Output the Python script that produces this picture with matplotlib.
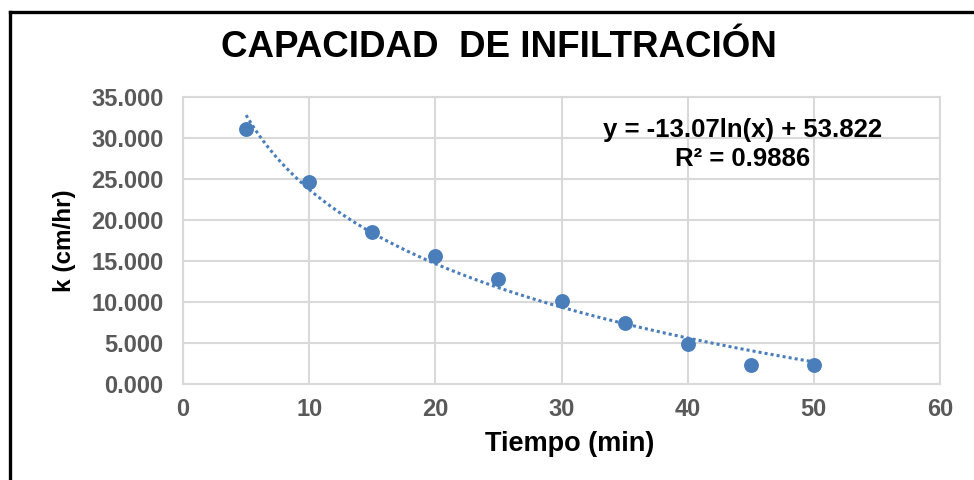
import numpy as np
import matplotlib
matplotlib.use('Agg')
import matplotlib.pyplot as plt
from matplotlib.lines import Line2D

plt.rcParams['font.family'] = ['Liberation Sans', 'DejaVu Sans']

# Infiltration test readings
tiempo_min = [5, 10, 15, 20, 25, 30, 35, 40, 45, 50]
k_cm_hr = [31.1, 24.6, 18.5, 15.6, 12.8, 10.1, 7.4, 4.9, 2.3, 2.3]

# Logarithmic trendline as reported on the chart
trend_a = -13.07
trend_b = 53.822
trend_r2 = 0.9886

x_ticks = [0, 10, 20, 30, 40, 50, 60]
y_ticks = [0, 5, 10, 15, 20, 25, 30, 35]

BLUE = '#4a7ebb'
GRID = '#d9d9d9'
TICK = '#595959'


def plot_infiltracion(save_path='out.png'):
    fig = plt.figure(figsize=(9.74, 4.8), dpi=100)
    ax = fig.add_axes([0.1879, 0.2, 0.7772, 0.5979])

    # trendline over the measured range
    xt = np.linspace(min(tiempo_min), max(tiempo_min), 200)
    ax.plot(xt, trend_a * np.log(xt) + trend_b, color=BLUE, linestyle=(0, (1, 1)),
            linewidth=2.2, zorder=3)
    ax.scatter(tiempo_min, k_cm_hr, s=115, color=BLUE, zorder=4, linewidths=0)

    ax.set_xlim(0, 60)
    ax.set_ylim(0, 35)
    ax.set_xticks(x_ticks)
    ax.set_yticks(y_ticks)
    ax.set_yticklabels([f'{v:.3f}' for v in y_ticks])
    ax.grid(True, color=GRID, linewidth=1.5)
    ax.set_axisbelow(True)
    for sp in ax.spines.values():
        sp.set_color(GRID)
        sp.set_linewidth(1.5)
    ax.tick_params(axis='both', length=0, colors=TICK)
    ax.tick_params(axis='y', pad=14, labelsize=17)
    ax.tick_params(axis='x', pad=10, labelsize=17)
    for lab in ax.get_xticklabels() + ax.get_yticklabels():
        lab.set_fontweight('bold')

    ax.text(0.7398, 0.835, f'y = {trend_a}ln(x) + {trend_b}\nR² = {trend_r2}',
            transform=ax.transAxes, ha='center', va='center', fontsize=18.5,
            fontweight='bold', linespacing=1.3, color='black')

    fig.text(0.512, 0.881, 'CAPACIDAD  DE INFILTRACIÓN', ha='center', va='baseline',
             fontsize=26.5, fontweight='bold')
    fig.text(0.585, 0.06, 'Tiempo (min)', ha='center', va='baseline',
             fontsize=19.5, fontweight='bold')
    fig.text(0.0667, 0.498, 'k (cm/hr)', ha='center', va='center', rotation=90,
             fontsize=17.5, fontweight='bold')

    # black frame on the left and top edges
    x0 = 10 / 974
    y0 = 1 - 12 / 480
    fig.add_artist(Line2D([x0, x0], [0, y0], color='black', linewidth=2.4,
                          transform=fig.transFigure))
    fig.add_artist(Line2D([x0, 1], [y0, y0], color='black', linewidth=2.4,
                          transform=fig.transFigure))

    fig.savefig(save_path, dpi=100)
    return fig


if __name__ == "__main__":
    plot_infiltracion()
